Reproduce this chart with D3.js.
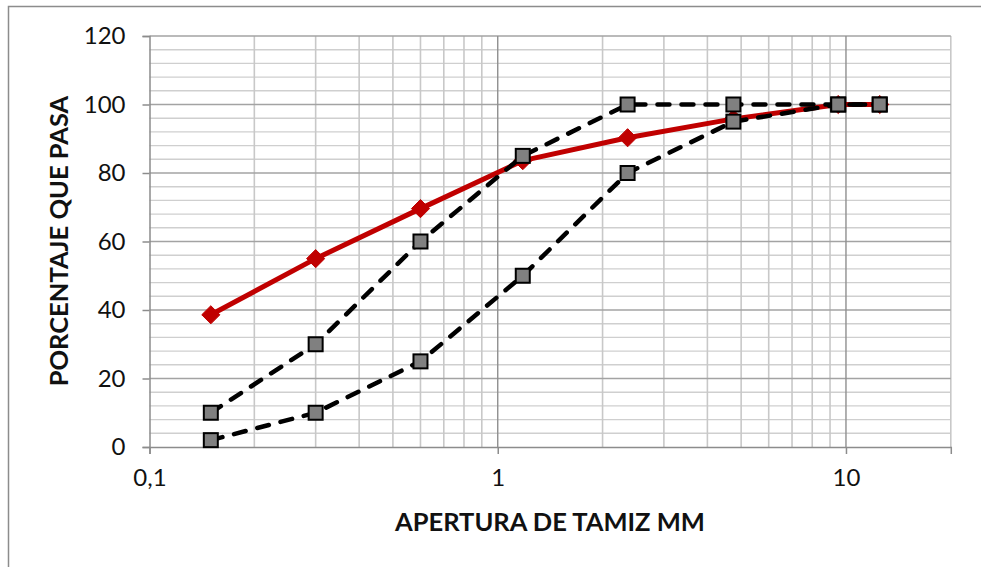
<!DOCTYPE html>
<html>
<head>
<meta charset="utf-8">
<script src="https://cdn.jsdelivr.net/npm/d3@7"></script>
<style>
  html, body { margin: 0; padding: 0; background: #fff; }
  svg { display: block; font-family: Lato, "Open Sans", sans-serif; }
</style>
</head>
<body>
<svg id="chart" width="981" height="567"></svg>
<script>
// Sieve openings (mm) and percent passing
const sieves = [0.15, 0.3, 0.6, 1.18, 2.36, 4.75, 9.5, 12.5];
const sample = [38.6, 55, 69.6, 83.6, 90.3, 95.8, 100, 100];
const upperLimit = [10, 30, 60, 85, 100, 100, 100, 100];
const lowerLimit = [2, 10, 25, 50, 80, 95, 100, 100];

const xTicks = [0.1, 1, 10];
const xTickLabels = ["0,1", "1", "10"];
const yTicks = [0, 20, 40, 60, 80, 100, 120];

const svg = d3.select("#chart");
const plot = { left: 149.5, right: 950.8, top: 36, bottom: 447 };

// outer chart frame
svg.append("rect")
  .attr("x", 8.5).attr("y", 6.5)
  .attr("width", 1000).attr("height", 700)
  .attr("fill", "#fff").attr("stroke", "#8c8c8c").attr("stroke-width", 1.5);

const x = d3.scaleLog().domain([0.1, 20]).range([plot.left, plot.right]);
const y = d3.scaleLinear().domain([0, 120]).range([plot.bottom, plot.top]);

const grid = svg.append("g");

// minor horizontal gridlines every 4 %
d3.range(4, 121, 4).filter(v => v % 20 !== 0).forEach(v => {
  grid.append("line")
    .attr("x1", plot.left).attr("x2", plot.right)
    .attr("y1", y(v)).attr("y2", y(v))
    .attr("stroke", "#cfcfcf").attr("stroke-width", 1.4);
});
// minor vertical gridlines at 2..9 of each decade
const minorX = [];
[0.1, 1, 10].forEach(d => { for (let k = 2; k <= 9; k++) { const v = d * k; if (v <= 20.0001) minorX.push(v); } });
minorX.forEach(v => {
  grid.append("line")
    .attr("x1", x(v)).attr("x2", x(v))
    .attr("y1", plot.top).attr("y2", plot.bottom)
    .attr("stroke", "#c8c8c8").attr("stroke-width", 1.6);
});
// major horizontal gridlines
yTicks.filter(v => v > 0).forEach(v => {
  grid.append("line")
    .attr("x1", plot.left).attr("x2", plot.right)
    .attr("y1", y(v)).attr("y2", y(v))
    .attr("stroke", "#a3a3a3").attr("stroke-width", 1.4);
});
// major vertical gridlines
[1, 10].forEach(v => {
  grid.append("line")
    .attr("x1", x(v)).attr("x2", x(v))
    .attr("y1", plot.top).attr("y2", plot.bottom)
    .attr("stroke", "#8f8f8f").attr("stroke-width", 1.4);
});

// axes
const yAxis = d3.axisLeft(y).tickValues(yTicks).tickSize(7).tickPadding(17);
const gy = svg.append("g").attr("transform", `translate(${plot.left},0)`).call(yAxis);
gy.select(".domain").attr("stroke", "#8c8c8c").attr("stroke-width", 1.5);
gy.selectAll(".tick line").attr("stroke", "#8c8c8c").attr("stroke-width", 1.5);
gy.selectAll(".tick text").attr("font-size", 24).attr("fill", "#111")
  .attr("font-family", "Lato, sans-serif");

const xAxis = d3.axisBottom(x).tickValues(xTicks)
  .tickFormat((d, i) => xTickLabels[i]).tickSize(7).tickPadding(15);
const gx = svg.append("g").attr("transform", `translate(0,${plot.bottom})`).call(xAxis);
gx.select(".domain").attr("stroke", "#8c8c8c").attr("stroke-width", 1.5);
gx.selectAll(".tick line").attr("stroke", "#8c8c8c").attr("stroke-width", 1.5);
gx.selectAll(".tick text").attr("font-size", 24).attr("fill", "#111")
  .attr("font-family", "Lato, sans-serif");

// axis titles
svg.append("text")
  .attr("x", 550).attr("y", 531)
  .attr("text-anchor", "middle")
  .attr("font-size", 25.5).attr("font-weight", "bold").attr("fill", "#111")
  .text("APERTURA DE TAMIZ MM");
svg.append("text")
  .attr("transform", "translate(68,241) rotate(-90)")
  .attr("text-anchor", "middle")
  .attr("font-size", 25.5).attr("font-weight", "bold").attr("fill", "#111")
  .text("PORCENTAJE QUE PASA");

const line = d3.line().x(d => x(d[0])).y(d => y(d[1]));

// sample gradation curve
const samplePts = sieves.map((s, i) => [s, sample[i]]);
svg.append("path").datum(samplePts)
  .attr("d", line).attr("fill", "none")
  .attr("stroke", "#c00000").attr("stroke-width", 5).attr("stroke-linejoin", "round");
svg.append("g").selectAll("path").data(samplePts).join("path")
  .attr("transform", d => `translate(${x(d[0])},${y(d[1])})`)
  .attr("d", d3.symbol(d3.symbolDiamond2, 210))
  .attr("fill", "#c00000").attr("stroke", "#c00000").attr("stroke-width", 1);

// specification limits
[upperLimit, lowerLimit].forEach(lim => {
  const pts = sieves.map((s, i) => [s, lim[i]]);
  svg.append("path").datum(pts)
    .attr("d", line).attr("fill", "none")
    .attr("stroke", "#000").attr("stroke-width", 4.5)
    .attr("stroke-dasharray", "12,12").attr("stroke-linecap", "round");
  svg.append("g").selectAll("rect").data(pts).join("rect")
    .attr("x", d => x(d[0]) - 7).attr("y", d => y(d[1]) - 7)
    .attr("width", 14).attr("height", 14)
    .attr("fill", "#808080").attr("stroke", "#000").attr("stroke-width", 2);
});
</script>
</body>
</html>
